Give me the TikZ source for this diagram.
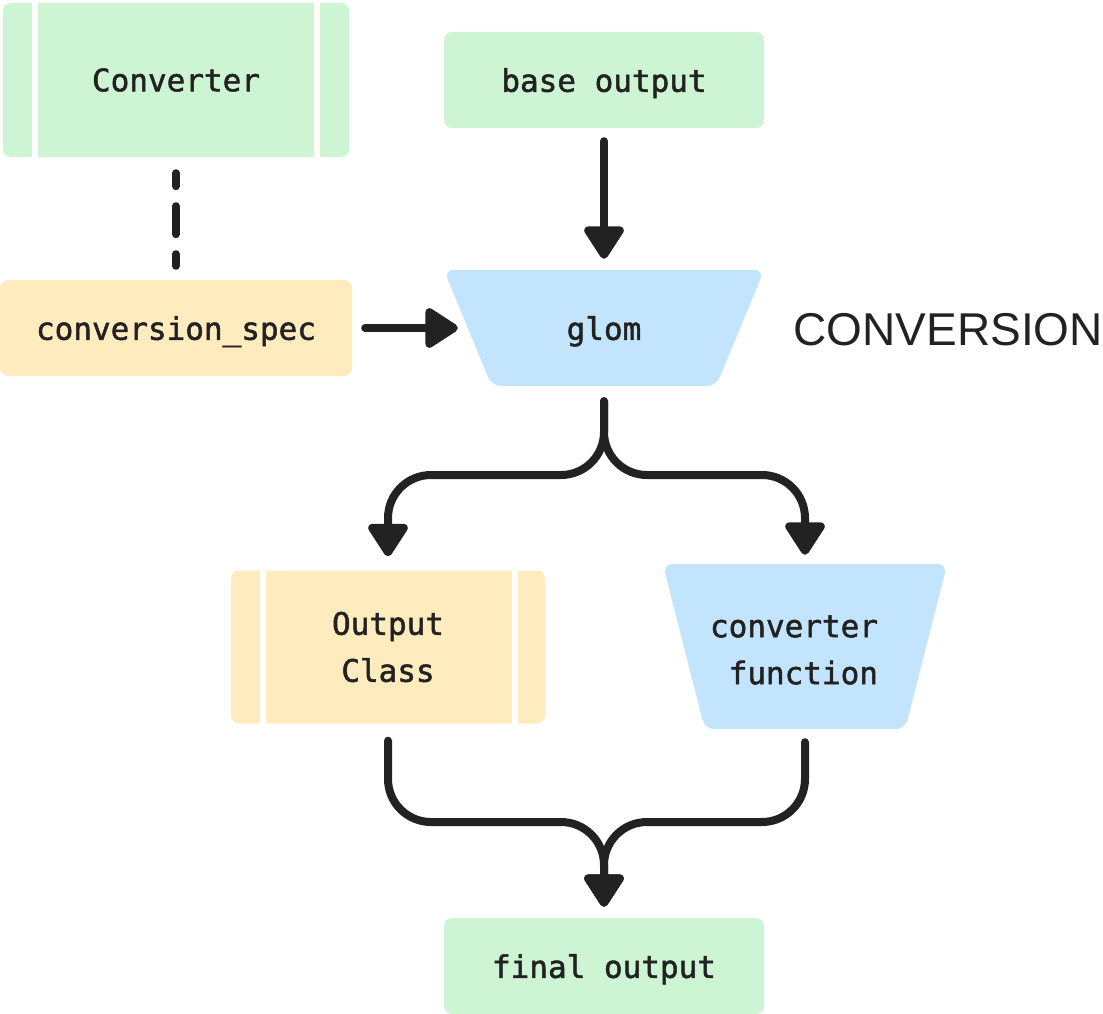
\documentclass[tikz,border=0pt]{standalone}
\usepackage{fontspec}
\newfontfamily\monof{DejaVu Sans Mono}[BoldFont={DejaVu Sans Mono}, BoldFeatures={FakeBold=1.6}]
\newfontfamily\sansf{Liberation Sans}
\usetikzlibrary{arrows.meta,calc}
\pgfdeclarelayer{bg}
\pgfsetlayers{bg,main}
\definecolor{gfill}{HTML}{CDF4D3}
\definecolor{yfill}{HTML}{FEEBBE}
\definecolor{bfill}{HTML}{C2E4FC}
\definecolor{ink}{HTML}{222222}
\tikzset{
  txt/.style={inner sep=0pt, font=\monof\bfseries\fontsize{31}{47}\selectfont, text=ink, align=center},
  box/.style={txt, rectangle, rounded corners=8pt},
  oneline/.style={text depth=0pt},
  trapfill/.style={fill=bfill, rounded corners=10pt},
  conn/.style={line width=8pt, draw=ink, line cap=round,
    -{Triangle[width=44pt,length=36pt,round]}},
  dashconn/.style={line width=8pt, draw=ink, line cap=round,
    dash pattern=on 28pt off 20pt, dash phase=15pt},
  stripe/.style={fill=white},
}
\begin{document}
\begin{tikzpicture}[x=1pt,y=-1pt]
\useasboundingbox (0,0) rectangle (1103,1014);
% nodes
\node[box, fill=gfill, minimum width=346pt, minimum height=154pt] (conv) at (176,80) {Converter};
\fill[stripe] ($(conv.north west)+(29,0)$) rectangle ($(conv.south west)+(35,0)$);
\fill[stripe] ($(conv.north east)+(-35,0)$) rectangle ($(conv.south east)+(-29,0)$);

\node[box, oneline, fill=yfill, minimum width=352pt, minimum height=96pt] (spec) at (176,328) {conversion\_spec};
\node[box, oneline, fill=gfill, minimum width=320pt, minimum height=96pt] (base) at (604,80) {base output};

% glom: trapezoid, node box = width at mid height
\node[txt, oneline, minimum width=272pt, minimum height=116pt] (glom) at (604,328) {glom};
\begin{pgfonlayer}{bg}
\fill[trapfill] ($(glom.north west)+(-24,0)$) -- ($(glom.north east)+(24,0)$)
  -- ($(glom.south east)+(-24,0)$) -- ($(glom.south west)+(24,0)$) -- cycle;
\end{pgfonlayer}
\node[font=\sansf\fontsize{46}{46}\selectfont, text=ink, anchor=east, inner sep=0pt] (lbl) at (1103,330) {CONVERSION};

\node[box, fill=yfill, minimum width=314pt, minimum height=153pt] (oc) at (388,647) {Output\\Class};
\fill[stripe] ($(oc.north west)+(29,0)$) rectangle ($(oc.south west)+(35,0)$);
\fill[stripe] ($(oc.north east)+(-33,0)$) rectangle ($(oc.south east)+(-27,0)$);

% converter function: trapezoid
\node[txt, minimum width=242pt, minimum height=165pt] (cfun) at (805,646.5) {};
\begin{pgfonlayer}{bg}
\fill[trapfill] ($(cfun.north west)+(-21,0)$) -- ($(cfun.north east)+(21,0)$)
  -- ($(cfun.south east)+(-21,0)$) -- ($(cfun.south west)+(21,0)$) -- cycle;
\end{pgfonlayer}
\node[txt, align=right] (cfuntext) at (794,650) {converter\\function};

\node[box, oneline, fill=gfill, minimum width=320pt, minimum height=96pt] (final) at (604,966) {final output};

\coordinate (split) at (604,475);
\coordinate (merge) at (604,822);

% connectors
\draw[dashconn, shorten <=16pt, shorten >=14pt] (conv) -- (spec);
\draw[conn, shorten <=13pt, shorten >=11pt] (base) -- (glom);
\draw[conn, shorten <=13pt, shorten >=10pt] (spec) -- (glom);
\draw[conn, rounded corners=43pt, shorten <=15pt, shorten >=14pt] (glom.south) -- (split) -| (oc.north);
\draw[conn, rounded corners=43pt, shorten <=15pt, shorten >=9pt] (glom.south) -- (split) -| (cfun.north);
\draw[conn, rounded corners=43pt, shorten <=17pt, shorten >=11pt] (oc.south) |- (merge) -- (final.north);
\draw[conn, rounded corners=43pt, shorten <=13pt, shorten >=11pt] (cfun.south) |- (merge) -- (final.north);
\end{tikzpicture}
\end{document}
